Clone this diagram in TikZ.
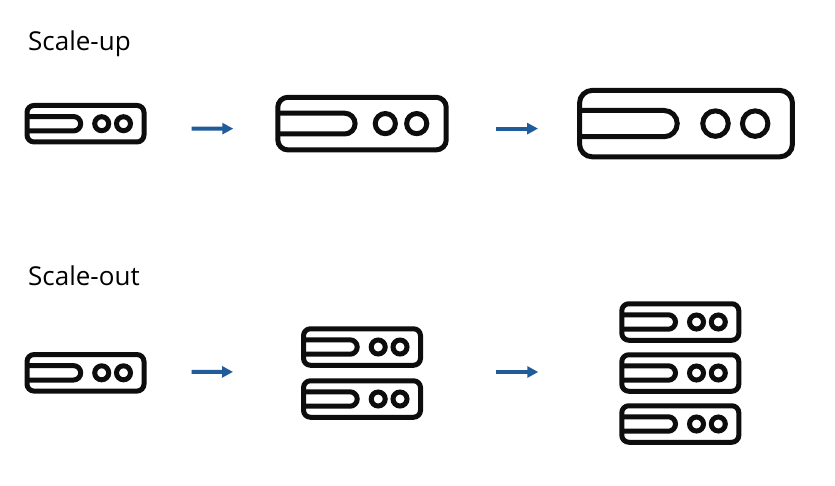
\documentclass[tikz,border=0pt]{standalone}
\usepackage{xcolor}
\usepackage{fontspec}
\setmainfont{Open Sans}
\usepackage{tikz}
\usetikzlibrary{positioning, arrows.meta, calc}
\definecolor{flowblue}{RGB}{31, 92, 153}
\definecolor{iconblack}{RGB}{13, 13, 13}

\begin{document}
\begin{tikzpicture}[
  x=1pt, y=-1pt,
  serverbox/.style={draw=iconblack, line width=5pt, inner sep=0pt, fill=white},
  flow/.style={-{Triangle[length=11pt, width=11pt]}, draw=flowblue, line width=4pt},
  title/.style={anchor=base west, inner sep=0pt, font=\fontsize{26}{30}\selectfont, text=black},
  server/.pic={
    \node[serverbox, rounded corners=#1*7pt, minimum width=#1*117pt, minimum height=#1*36.5pt] (-box) {};
    \draw[draw=iconblack, line width=5pt] ({-58.5*#1},{-7.2*#1}) -- ({-12*#1},{-7.2*#1})
      arc[start angle=-90, end angle=90, radius=7.2*#1] -- ({-58.5*#1},{7.2*#1});
    \draw[draw=iconblack, line width=5pt] ({16.2*#1},0) circle[radius=7*#1];
    \draw[draw=iconblack, line width=5pt] ({38*#1},0) circle[radius=7*#1];
  }
]
    \useasboundingbox (0,0) rectangle (835,485);

    \node[title] (uptitle) at (28,50) {Scale-up};
    \pic (up1) at (85.5,123.7) {server=1};
    \pic (up2) at (362,123.6) {server=1.44};
    \pic (up3) at (686,123.6) {server=1.82};

    \draw[flow, shorten <=45pt, shorten >=42pt] ([yshift=-5pt]up1-box.east) -- ([yshift=-5pt]up2-box.west);
    \draw[flow, shorten <=47pt, shorten >=39pt] ([yshift=-5pt]up2-box.east) -- ([yshift=-5pt]up3-box.west);

    \node[title] (outtitle) at (28,285) {Scale-out};
    \pic (out1) at (85.5,372.8) {server=1};
    \pic (out2a) at (362,347) {server=1};
    \pic (out2b) at (362,399) {server=1};
    \pic (out3a) at (680.3,322) {server=1};
    \pic (out3b) at (680.3,373) {server=1};
    \pic (out3c) at (680.3,424) {server=1};

    \coordinate (out2) at ($(out2a-box)!.5!(out2b-box)$);
    \draw[flow, shorten <=45pt, shorten >=129pt] ([yshift=1pt]out1-box.east) -- ([yshift=1pt]out2);
    \draw[flow, shorten <=134pt, shorten >=81pt] ([yshift=1pt]out2) -- ([yshift=1pt]out3b-box.west);
\end{tikzpicture}
\end{document}
